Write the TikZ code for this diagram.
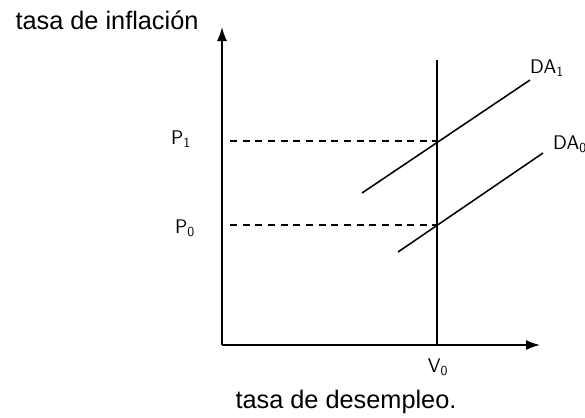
\documentclass[tikz,border=0pt]{standalone}
\usepackage{fontspec}
\setmainfont{Liberation Sans}
\usetikzlibrary{arrows.meta}

\begin{document}
\begin{tikzpicture}[
  x=0.025cm,y=-0.025cm,
  >=Latex,
  line width=1.1pt,
  every node/.style={font=\fontsize{18}{20}\selectfont},
  axis line/.style={->,>={Latex[length=3.5mm,width=2.5mm]}},
  guide line/.style={line width=0.8pt,dash pattern=on 5pt off 4pt},
  curve line/.style={line width=1.1pt},
  hand label/.style={font=\sffamily\fontsize{14}{16}\selectfont,inner sep=1pt},
]
\useasboundingbox (0,0) rectangle (585,417);
\coordinate (O) at (222,345);
\coordinate (ytip) at (222,27);
\coordinate (xtip) at (540,345);
\coordinate (Vtop) at (437,60);
\coordinate (V) at (437,345);
\node[hand label] (P1) at (181,139) {P\textsubscript{1}};
\node[hand label] (P0) at (185,228) {P\textsubscript{0}};
\node[hand label] (V0) at (438,367) {V\textsubscript{0}};
\node[hand label,anchor=west] (DA1) at (528,68) {DA\textsubscript{1}};
\node[hand label,anchor=west] (DA0) at (551,144) {DA\textsubscript{0}};
\node (ylab) at (107,20) {tasa de inflación};
\node (xlab) at (346,402) {tasa de desempleo.};
\coordinate (A1s) at (362,193);
\coordinate (A1e) at (530,80);
\coordinate (A0s) at (398,252);
\coordinate (A0e) at (543,153);
\draw[axis line] (O) -- (ytip);
\draw[axis line] (O) -- (xtip);
\draw (V) -- (Vtop);
\draw[guide line] (230,141) -- (437,141);
\draw[guide line] (230,225) -- (437,225);
\draw[curve line] (A1s) -- (A1e);
\draw[curve line] (A0s) -- (A0e);
\end{tikzpicture}
\end{document}
